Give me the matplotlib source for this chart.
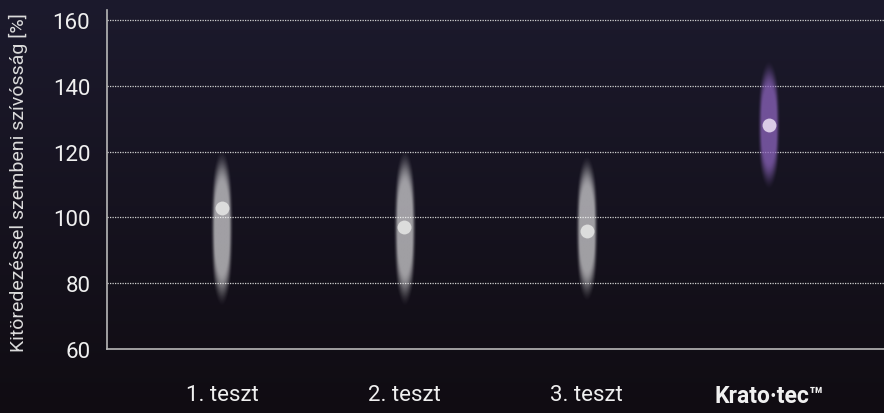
import numpy as np
import matplotlib.pyplot as plt

# chart data
categories = ["1. teszt", "2. teszt", "3. teszt", "Krato·tec™"]
values = [102.8, 97.1, 95.9, 128.2]
range_low = [72.5, 72.5, 74.0, 108.0]
range_high = [121.0, 121.0, 119.0, 148.0]
yticks = [60, 80, 100, 120, 140, 160]

glow_colors = [(1, 1, 1), (1, 1, 1), (1, 1, 1), (0.56, 0.40, 0.75)]
dot_colors = ["#dcdcdc", "#dcdcdc", "#dcdcdc", "#d9cbe6"]

fig = plt.figure(figsize=(8.84, 4.14), dpi=100)

# background gradient
bg = fig.add_axes([0, 0, 1, 1], zorder=-10)
top = np.array([0x1c, 0x1a, 0x2d]) / 255
bot = np.array([0x10, 0x0c, 0x12]) / 255
t = np.linspace(0, 1, 256)[:, None]
grad = top * (1 - t) + bot * t
bg.imshow(grad[:, None, :].repeat(2, axis=1), aspect="auto", extent=(0, 1, 0, 1))
bg.axis("off")

ax = fig.add_axes([0.121, 0.1546, 0.879, 0.8184])
ax.set_facecolor("none")
ax.set_xlim(-0.63, 3.63)
ax.set_ylim(60, 163)

for y in yticks[1:]:
    ax.axhline(y, color="#d0d0d0", lw=0.9, ls=(0, (1, 1)), zorder=1)


def smooth(x):
    x = np.clip(x, 0, 1)
    return x * x * (3 - 2 * x)


# soft elliptical glow for each range
u = np.linspace(-1, 1, 60)[None, :]
v = np.linspace(-1, 1, 300)[:, None]
r = np.sqrt(u ** 2 + v ** 2)
a = smooth((1 - r) / 0.45) * smooth((1 - np.abs(u)) / 0.5)
for i, c in enumerate(glow_colors):
    img = np.zeros((300, 60, 4))
    img[..., 0], img[..., 1], img[..., 2] = c
    img[..., 3] = a * (0.6 if i < 3 else 0.75)
    ax.imshow(img, extent=(i - 0.07, i + 0.07, range_low[i], range_high[i]),
              aspect="auto", interpolation="bilinear", zorder=2)

for i, val in enumerate(values):
    ax.plot(i, val, "o", ms=10, color=dot_colors[i], mec="none", zorder=3)

for s in ["top", "right"]:
    ax.spines[s].set_visible(False)
for s in ["left", "bottom"]:
    ax.spines[s].set_color("#b8b8b8")
    ax.spines[s].set_linewidth(1.2)

ax.set_yticks(yticks)
ax.set_yticklabels([str(y) for y in yticks], fontsize=16, color="#f0f0f0",
                   family="Roboto")
ax.set_xticks(range(len(categories)))
ax.set_xticklabels(categories, fontsize=16, color="#f0f0f0", family="Roboto")
ax.get_xticklabels()[3].set_fontweight("bold")
ax.get_xticklabels()[3].set_fontsize(16.5)
ax.tick_params(axis="y", length=0, pad=12)
ax.tick_params(axis="x", length=0, pad=25)

fig.text(0.021, 0.56, "Kitöredezéssel szembeni szívósság [%]", rotation=90,
         ha="center", va="center", fontsize=14, color="#dcdcdc",
         family="Roboto")

fig.savefig("out.png", dpi=100)
